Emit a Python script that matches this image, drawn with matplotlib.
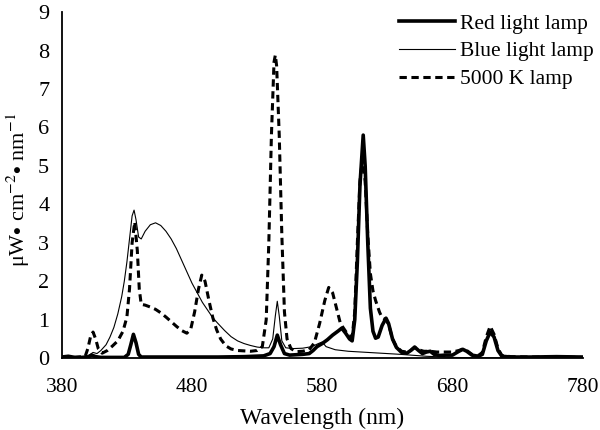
import matplotlib
matplotlib.use("Agg")
import matplotlib.pyplot as plt

plt.rcParams.update({
    "font.family": "Liberation Serif",
    "mathtext.fontset": "stix",
    "font.size": 16,
})

# ── DATA ─────────────────────────────────────────────────────────────────────
red_wl = [380, 385, 390, 395, 400, 403, 406, 410, 420, 428, 431, 433, 435, 437,
          439, 441, 460, 480, 500, 520, 535, 540, 543, 545.5, 548, 551, 555, 565,
          570, 573, 576, 580, 584, 588, 592, 595, 598, 601, 603, 605, 607, 609,
          611.5, 613, 615, 617, 619, 621, 623, 626, 629, 631, 634, 637, 641, 645,
          648, 651, 654, 657, 660, 663, 666, 670, 675, 680, 685, 688, 691, 695,
          700, 703, 706, 709, 712, 715, 718, 725, 740, 760, 780]
red_val = [0.03, 0.05, 0.02, 0.02, 0.03, 0.08, 0.04, 0.02, 0.02, 0.02, 0.1, 0.35,
           0.62, 0.4, 0.1, 0.03, 0.03, 0.03, 0.03, 0.04, 0.06, 0.12, 0.3, 0.6,
           0.35, 0.12, 0.08, 0.1, 0.12, 0.2, 0.3, 0.38, 0.48, 0.6, 0.7, 0.78,
           0.65, 0.5, 0.45, 1.0, 2.5, 4.5, 5.8, 5.0, 3.0, 1.3, 0.7, 0.52, 0.55,
           0.85, 1.04, 0.9, 0.5, 0.28, 0.15, 0.13, 0.2, 0.29, 0.2, 0.12, 0.16,
           0.18, 0.1, 0.07, 0.08, 0.08, 0.18, 0.23, 0.18, 0.08, 0.05, 0.1, 0.45,
           0.68, 0.55, 0.2, 0.05, 0.03, 0.03, 0.04, 0.03]

blue_wl = [380, 390, 398, 401, 404, 407, 410, 414, 417, 420, 423, 426, 428, 430,
           432, 434, 435.5, 437, 439, 441, 444, 448, 452, 456, 460, 464, 468,
           472, 476, 480, 484, 488, 492, 496, 500, 505, 510, 515, 520, 525, 530,
           535, 539, 542, 544, 545.5, 547, 549, 552, 558, 565, 572, 577, 580,
           583, 590, 600, 620, 640, 660, 680, 700, 740, 780]
blue_val = [0.03, 0.02, 0.03, 0.08, 0.15, 0.12, 0.2, 0.35, 0.55, 0.8, 1.15, 1.6,
            2.0, 2.5, 3.1, 3.7, 3.85, 3.6, 3.15, 3.1, 3.3, 3.47, 3.52, 3.45, 3.3,
            3.1, 2.85, 2.55, 2.25, 1.95, 1.7, 1.45, 1.25, 1.05, 0.9, 0.72, 0.56,
            0.45, 0.38, 0.33, 0.29, 0.27, 0.27, 0.5, 1.1, 1.48, 1.1, 0.45, 0.27,
            0.25, 0.26, 0.3, 0.38, 0.42, 0.3, 0.22, 0.18, 0.14, 0.1, 0.05, 0.02,
            0.01, 0.01, 0.01]

k5000_wl = [380, 390, 398, 400, 402, 404, 406, 408, 411, 415, 419, 423, 427, 430,
            432, 434, 436, 438, 439.5, 441, 444, 448, 452, 456, 460, 464, 468,
            472, 476, 479, 482, 485, 487.5, 490, 493, 496, 499, 502, 506, 510,
            515, 520, 525, 530, 534, 537, 539, 541, 543, 544, 545, 547, 549, 551,
            553, 556, 560, 565, 570, 574, 578, 582, 585, 588, 591, 594, 597, 600,
            603, 605, 607, 609, 611, 613, 615, 617, 619, 621, 624, 626, 629, 631,
            634, 637, 641, 645, 648, 651, 654, 658, 663, 668, 675, 680, 685, 688,
            691, 695, 700, 703, 706, 709, 712, 715, 718, 725, 740, 760, 780]
k5000_val = [0.02, 0.02, 0.05, 0.25, 0.55, 0.68, 0.5, 0.25, 0.13, 0.2, 0.32, 0.45,
             0.7, 1.07, 1.8, 3.0, 3.54, 2.8, 1.8, 1.4, 1.38, 1.33, 1.27, 1.18,
             1.07, 0.95, 0.83, 0.72, 0.65, 0.75, 1.2, 1.8, 2.16, 2.0, 1.5, 1.05,
             0.73, 0.5, 0.32, 0.24, 0.2, 0.19, 0.18, 0.2, 0.3, 1.0, 3.0, 5.8, 7.7,
             7.88, 7.6, 5.8, 3.2, 1.2, 0.5, 0.25, 0.17, 0.18, 0.22, 0.4, 0.9, 1.5,
             1.84, 1.7, 1.3, 0.9, 0.75, 0.6, 0.55, 1.2, 3.0, 4.6, 5.2, 4.6, 3.2,
             2.2, 1.75, 1.5, 1.2, 1.05, 1.0, 0.88, 0.5, 0.3, 0.18, 0.16, 0.2, 0.28,
             0.22, 0.18, 0.18, 0.16, 0.16, 0.16, 0.2, 0.24, 0.2, 0.1, 0.07, 0.15,
             0.55, 0.83, 0.62, 0.25, 0.07, 0.04, 0.03, 0.03, 0.02]

x_ticks = [380, 480, 580, 680, 780]
y_ticks = list(range(0, 10))

# ── PLOT ─────────────────────────────────────────────────────────────────────
fig = plt.figure(figsize=(6, 4.3), dpi=100)
ax = fig.add_axes([0.103, 0.167, 0.868, 0.805])

ax.plot(red_wl, red_val, color="black", linewidth=2.6, label="Red light lamp",
        solid_joinstyle="round")
ax.plot(blue_wl, blue_val, color="black", linewidth=0.8, label="Blue light lamp")
ax.plot(k5000_wl, k5000_val, color="black", linewidth=2.2,
        linestyle=(0, (2.4, 1.5)), label="5000 K lamp")

ax.set_xlim(380, 780)
ax.set_ylim(0, 9)
ax.set_xticks(x_ticks)
ax.set_yticks(y_ticks)
ax.tick_params(length=0)
ax.tick_params(axis="x", pad=14, labelsize=15.5)
ax.tick_params(axis="y", pad=9)

for s in ["top", "right"]:
    ax.spines[s].set_visible(False)
for s in ["left", "bottom"]:
    ax.spines[s].set_linewidth(1.3)

ax.set_xlabel("Wavelength (nm)", fontsize=17, labelpad=8)
ax.set_ylabel(r"μW$\bullet$ cm$^{-2}$$\bullet$ nm$^{-1}$", fontsize=16)
ax.yaxis.set_label_coords(-0.058, 0.485)

ax.legend(loc="upper left", bbox_to_anchor=(0.665, 0.968),
          bbox_transform=fig.transFigure, frameon=False, borderpad=0,
          borderaxespad=0, handlelength=2.6, handletextpad=0.25,
          labelspacing=0.35, fontsize=15.5)

fig.savefig("out.png", dpi=100)
